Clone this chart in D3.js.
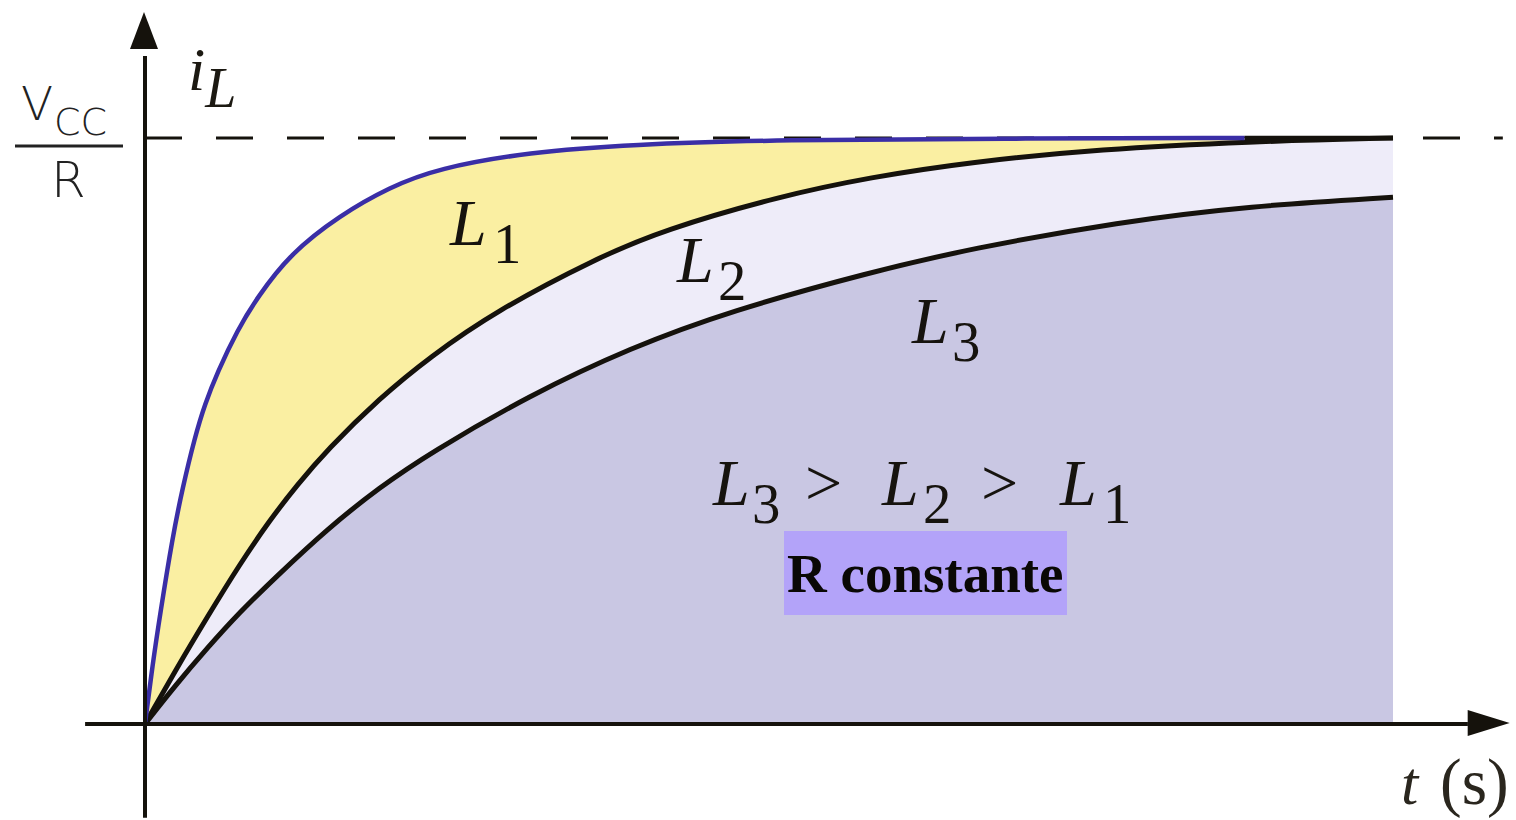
<!DOCTYPE html>
<html>
<head>
<meta charset="utf-8">
<script src="https://cdn.jsdelivr.net/npm/d3@7"></script>
<style>
  html, body { margin: 0; padding: 0; background: #fff; overflow: hidden; }
  svg { display: block; }
</style>
</head>
<body>
<svg id="chart" width="1516" height="820"></svg>
<script>
// Inductor current i_L(t) for three inductances, R held constant.
// Time in arbitrary units, current as a fraction of Vcc/R.
const tL1 = [0, 0.06, 0.12, 0.22, 0.30, 0.40, 0.48, 0.58, 0.74, 0.90, 1.16, 1.56, 1.96, 2.34, 3.08, 3.89, 5.09, 6.85, 8.81, 10];
const iL1 = [0, 0.100, 0.186, 0.318, 0.402, 0.490, 0.546, 0.600, 0.672, 0.728, 0.802, 0.868, 0.916, 0.948, 0.976, 0.989, 0.997, 0.999, 1.0, 1.0];

const tL2 = [0, 0.24, 0.50, 0.76, 1.00, 1.22, 1.46, 1.88, 2.28, 2.82, 3.62, 4.15, 5.09, 5.81, 6.61, 7.65, 8.85, 10];
const iL2 = [0, 0.090, 0.183, 0.273, 0.348, 0.408, 0.468, 0.556, 0.626, 0.706, 0.795, 0.843, 0.901, 0.933, 0.959, 0.981, 0.994, 1.0];

const tL3 = [0, 0.24, 0.50, 0.76, 1.03, 1.46, 1.88, 2.28, 3.08, 3.89, 4.69, 5.81, 6.61, 7.81, 8.85, 10];
const iL3 = [0, 0.065, 0.130, 0.191, 0.247, 0.333, 0.404, 0.462, 0.561, 0.642, 0.705, 0.771, 0.811, 0.857, 0.884, 0.899];

// Time after which the L1 trace is drawn on the asymptote in black.
const tL1Blue = 8.81;
const asymptote = 1.0;

const svg = d3.select("#chart");

const x = d3.scaleLinear().domain([0, 10]).range([145, 1393]);
const y = d3.scaleLinear().domain([0, 1]).range([724, 138]);

const zip = (ts, vs) => ts.map((t, k) => ({ t, v: vs[k] }));
const s1 = zip(tL1, iL1), s2 = zip(tL2, iL2), s3 = zip(tL3, iL3);

const smooth = d3.curveBasis;
const area = d3.area().x(d => x(d.t)).y0(y(0)).y1(d => y(d.v)).curve(smooth);
const line = d3.line().x(d => x(d.t)).y(d => y(d.v)).curve(smooth);

const ink = "#15120c";

// Asymptote Vcc/R (dashed), runs past the plotted range.
svg.append("line")
  .attr("x1", x(0)).attr("x2", x(10.88))
  .attr("y1", y(asymptote)).attr("y2", y(asymptote))
  .attr("stroke", ink).attr("stroke-width", 3.2)
  .attr("stroke-dasharray", "37 34");

// Stacked fills: yellow band under L1, pale band under L2, lavender under L3.
svg.append("path").datum(s1).attr("d", area).attr("fill", "#faefa2");
svg.append("path").datum(s2).attr("d", area).attr("fill", "#eeecf9");
svg.append("path").datum(s3).attr("d", area).attr("fill", "#c9c7e3");

// Curves
svg.append("path").datum(s1.filter(d => d.t >= tL1Blue)).attr("d", line)
  .attr("fill", "none").attr("stroke", ink).attr("stroke-width", 4.5);
svg.append("path").datum(s2).attr("d", line)
  .attr("fill", "none").attr("stroke", ink).attr("stroke-width", 5);
svg.append("path").datum(s3).attr("d", line)
  .attr("fill", "none").attr("stroke", ink).attr("stroke-width", 5);
svg.append("path").datum(s1.filter(d => d.t <= tL1Blue)).attr("d", line)
  .attr("fill", "none").attr("stroke", "#3a2ea6").attr("stroke-width", 4.5);

// Axes with arrow heads
const axisW = 4;
svg.append("line")
  .attr("x1", x(-0.48)).attr("x2", x(10.6))
  .attr("y1", y(0)).attr("y2", y(0))
  .attr("stroke", ink).attr("stroke-width", axisW);
svg.append("line")
  .attr("x1", x(0)).attr("x2", x(0))
  .attr("y1", y(-0.16)).attr("y2", y(1.14))
  .attr("stroke", ink).attr("stroke-width", axisW);

const xTip = x(10.935), yTip = y(1.215);
svg.append("path")
  .attr("d", `M${xTip},${y(0) - 1} L${xTip - 42},${y(0) - 14} L${xTip - 42},${y(0) + 12} Z`)
  .attr("fill", ink);
svg.append("path")
  .attr("d", `M${x(0) - 1},${yTip} L${x(0) - 15},${yTip + 37} L${x(0) + 13},${yTip + 37} Z`)
  .attr("fill", ink);

// Math-style labels: italic letter with a lowered subscript digit
const serif = "'Liberation Serif', 'Times New Roman', serif";
function mathLabel(px, py, letter, sub, subDx, size) {
  const g = svg.append("g").attr("fill", "#16130e").attr("font-family", serif);
  g.append("text").attr("x", px).attr("y", py)
    .attr("font-size", size).attr("font-style", "italic").text(letter);
  g.append("text").attr("x", px + subDx).attr("y", py + 18)
    .attr("font-size", size * 0.86).text(sub);
}

mathLabel(450, 245, "L", "1", 43, 66);
mathLabel(677, 282, "L", "2", 41, 66);
mathLabel(912, 343, "L", "3", 40, 66);

// Ordering statement
mathLabel(713, 505, "L", "3", 39, 66);
mathLabel(882, 505, "L", "2", 41, 66);
mathLabel(1060, 505, "L", "1", 43, 66);
svg.append("text").attr("x", 805).attr("y", 505).attr("font-family", serif)
  .attr("font-size", 66).attr("fill", "#16130e").text(">");
svg.append("text").attr("x", 981).attr("y", 505).attr("font-family", serif)
  .attr("font-size", 66).attr("fill", "#16130e").text(">");

// "R constante" tag
svg.append("rect").attr("x", 784).attr("y", 531).attr("width", 283).attr("height", 84)
  .attr("fill", "#b3a3f9");
svg.append("text").attr("x", 787).attr("y", 592)
  .attr("font-family", serif).attr("font-weight", "bold").attr("font-size", 55)
  .attr("fill", "#0a0805").text("R constante");

// Y-axis title i_L
const yTitle = svg.append("text").attr("x", 188).attr("y", 90)
  .attr("font-family", serif).attr("font-style", "italic").attr("font-size", 62)
  .attr("fill", "#1c1912");
yTitle.append("tspan").text("i");
yTitle.append("tspan").attr("dy", 17).attr("font-size", 56).text("L");

// Asymptote value Vcc / R
const sans = "'DejaVu Sans', 'Open Sans', sans-serif";
const frac = svg.append("g").attr("fill", "#222").attr("font-family", sans).attr("font-weight", 300);
frac.append("text").attr("x", 21).attr("y", 120).attr("font-size", 47).text("V");
frac.append("text").attr("x", 54).attr("y", 135).attr("font-size", 38).text("CC");
frac.append("line").attr("x1", 15).attr("x2", 123).attr("y1", 146).attr("y2", 146)
  .attr("stroke", "#222").attr("stroke-width", 3);
frac.append("text").attr("x", 51).attr("y", 197).attr("font-size", 50).text("R");

// X-axis title t (s)
const xTitle = svg.append("g").attr("font-family", serif).attr("fill", "#2a261e");
xTitle.append("text").attr("x", 1401).attr("y", 804)
  .attr("font-size", 62).attr("font-style", "italic").text("t");
xTitle.append("text").attr("x", 1440).attr("y", 804)
  .attr("font-size", 65).text("(s)");
</script>
</body>
</html>
